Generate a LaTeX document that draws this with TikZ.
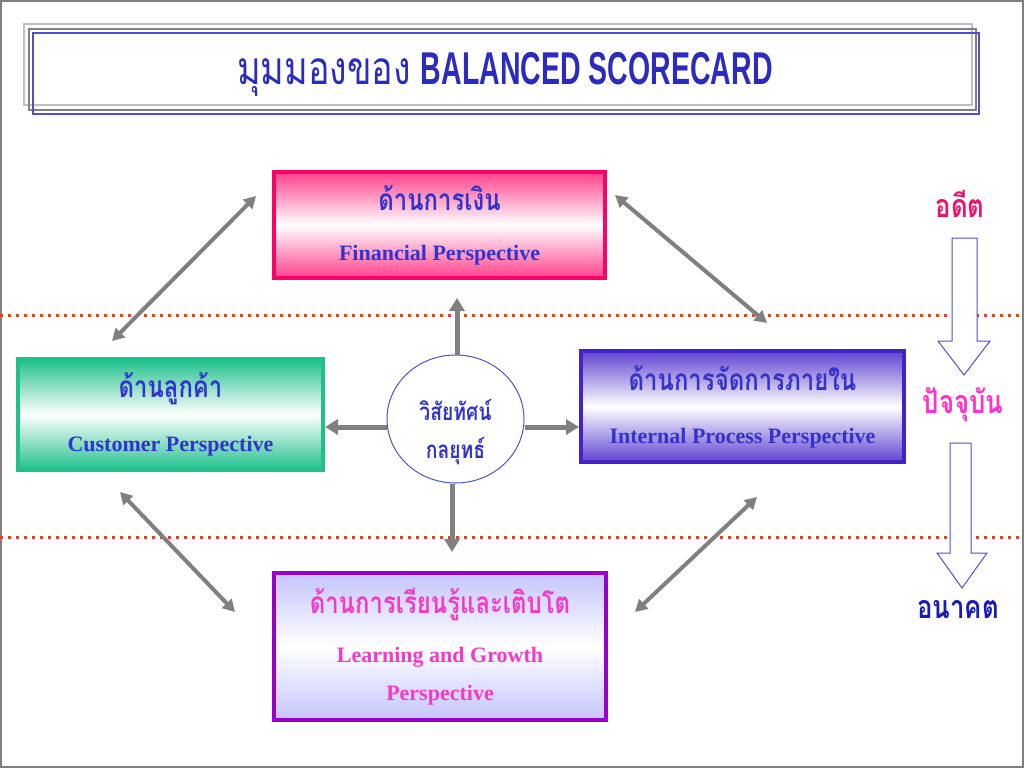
\documentclass[tikz,border=0pt]{standalone}
\usepackage{fontspec}
\setmainfont{Liberation Serif}
\newfontfamily\thaifont[Script=Thai]{Loma}
\newfontfamily\headfont{Liberation Sans}
\usetikzlibrary{arrows.meta,shapes.geometric}

\definecolor{inkblue}{HTML}{3333CC}
\definecolor{titleblue}{HTML}{2B2BBF}
\definecolor{finpink}{HTML}{FF0066}
\definecolor{custgreen}{HTML}{1FC08C}
\definecolor{intblue}{HTML}{4422C8}
\definecolor{learnpurple}{HTML}{9900CC}
\definecolor{learnfill}{HTML}{C4C4FF}
\definecolor{learnpink}{HTML}{F03CC8}
\definecolor{pastred}{HTML}{E8176A}
\definecolor{nowpink}{HTML}{FF33CC}
\definecolor{futblue}{HTML}{1A1AB8}
\definecolor{dotred}{HTML}{E2431C}
\definecolor{arrowgray}{HTML}{808080}
\definecolor{timeline}{HTML}{5050C8}

% tall and narrow Thai words
\newcommand\thaitall[1]{\scalebox{0.92}[1.15]{\thaifont\fontsize{26}{30}\selectfont #1}}

\tikzset{
  perspective/.style={draw, line width=4pt, inner sep=0pt, align=center,
    font=\fontsize{22}{26}\selectfont\bfseries},
  ctrarrow/.style={draw=arrowgray, line width=5pt, -{Triangle[length=13pt,width=15pt]}},
  linkarrow/.style={draw=arrowgray, line width=4pt,
    {Triangle[length=12pt,width=13pt]}-{Triangle[length=12pt,width=13pt]}},
  nowline/.style={draw=dotred, line width=3pt, dash pattern=on 3pt off 5pt},
  timearrow/.style={draw=timeline, line width=1pt, fill=white},
  timeword/.style={font=\bfseries}
}

\begin{document}
\begin{tikzpicture}[x=1pt,y=-1pt]
  \useasboundingbox (0,0) rectangle (1024,768);
  \draw[arrowgray, line width=2pt] (1,1) rectangle (1023,767);

  % title frame
  \draw[black!25, line width=1.5pt] (24,24) rectangle (972,105);
  \draw[black!50, line width=1.5pt] (29,29) rectangle (976,110);
  \draw[timeline, line width=1.5pt] (33,33) rectangle (979,114);
  \node[text=titleblue] (title) at (505,74)
    {\scalebox{0.78}[1]{\thaifont\fontsize{46}{50}\selectfont มุมมองของ}\hspace{10pt}%
     \scalebox{0.62}[1]{\headfont\bfseries\fontsize{46}{50}\selectfont BALANCED SCORECARD}};

  % dotted time lines
  \draw[nowline] (0,315) -- (1024,315);
  \draw[nowline] (0,537) -- (1024,537);

  % perspectives
  \node[perspective, draw=finpink, top color=finpink!75, bottom color=finpink!75,
    middle color=white, text=inkblue, minimum width=331pt, minimum height=106pt]
    (fin) at (439.5,225)
    {\thaitall{ด้านการเงิน}\\[24pt]Financial Perspective};
  \node[perspective, draw=custgreen, top color=custgreen, bottom color=custgreen,
    middle color=white, text=inkblue, minimum width=305pt, minimum height=111pt]
    (cust) at (170.5,414.5)
    {\thaitall{ด้านลูกค้า}\\[28pt]Customer Perspective};
  \node[perspective, draw=intblue, top color=intblue!85, bottom color=intblue!85,
    middle color=white, text=inkblue, minimum width=323pt, minimum height=111pt]
    (intern) at (742.5,406.5)
    {\thaitall{ด้านการจัดการภายใน}\\[27pt]Internal Process Perspective};
  \node[perspective, draw=learnpurple, top color=learnfill, bottom color=learnfill,
    middle color=white, text=learnpink, minimum width=332pt, minimum height=147pt]
    (learn) at (440,646.5)
    {\thaitall{ด้านการเรียนรู้และเติบโต}\\[23pt]Learning and Growth\\[12pt]Perspective};

  % vision in the middle
  \node[ellipse, draw=timeline, line width=1pt, minimum width=137pt, minimum height=128pt,
    text=inkblue, font=\bfseries]
    (vision) at (455.5,419)
    {\raisebox{-13pt}[\height][\depth]{\begin{tabular}{@{}c@{}}%
      \scalebox{0.92}[1.15]{\thaifont\bfseries\fontsize{21}{24}\selectfont วิสัยทัศน์}\\[14pt]%
      \scalebox{0.92}[1.15]{\thaifont\bfseries\fontsize{21}{24}\selectfont กลยุทธ์}\end{tabular}}};

  \draw[ctrarrow, shorten >=18pt] ([xshift=1.5pt]vision.north) -- ([xshift=1.5pt]vision.north |- fin.south);
  \draw[ctrarrow, shorten >=19pt] ([xshift=-3.5pt]vision.south) -- ([xshift=-3.5pt]vision.south |- learn.north);
  \draw[ctrarrow] ([yshift=-8pt]vision.west) -- ([yshift=-8pt]vision.west -| cust.east);
  \draw[ctrarrow] ([yshift=-8pt]vision.east) -- ([yshift=-8pt]vision.east -| intern.west);

  \draw[linkarrow] ([xshift=-16pt,yshift=29pt]fin.west) -- ([xshift=-58.5pt,yshift=16pt]cust.north);
  \draw[linkarrow] ([xshift=8pt,yshift=30pt]fin.east) -- ([xshift=24.5pt,yshift=26pt]intern.north);
  \draw[linkarrow] ([xshift=-50.5pt,yshift=-20pt]cust.south) -- ([xshift=-37pt,yshift=34.5pt]learn.west);
  \draw[linkarrow] ([xshift=14.5pt,yshift=-33pt]intern.south) -- ([xshift=27pt,yshift=34.5pt]learn.east);

  % past, present, future
  \node[timeword, text=pastred] (past) at (960,204)
    {\scalebox{0.92}[1.15]{\thaifont\bfseries\fontsize{28}{30}\selectfont อดีต}};
  \node[timeword, text=nowpink] (now) at (963,405)
    {\scalebox{0.92}[1.15]{\thaifont\bfseries\fontsize{28}{30}\selectfont ปัจจุบัน}};
  \node[timeword, text=futblue] (future) at (958,610)
    {\scalebox{0.92}[1.15]{\thaifont\bfseries\fontsize{28}{30}\selectfont อนาคต}};
  \draw[timearrow] (952,238) -- (977,238) -- (977,341) -- (990,341) -- (964,375)
    -- (938,341) -- (952,341) -- cycle;
  \draw[timearrow] (950,443) -- (971,443) -- (971,553) -- (987,553) -- (962,588)
    -- (937,553) -- (950,553) -- cycle;
\end{tikzpicture}
\end{document}
